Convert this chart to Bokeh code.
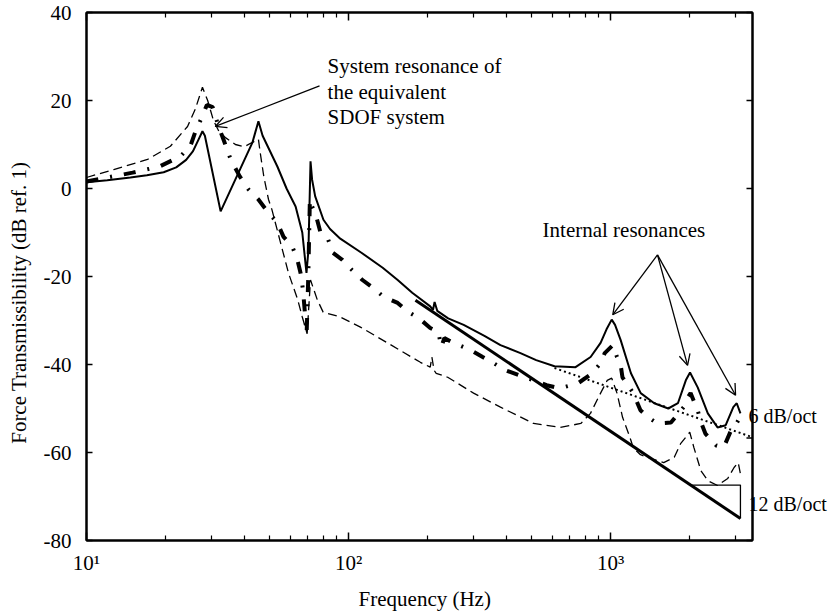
from bokeh.plotting import figure
from bokeh.models import (Range1d, LogAxis, LinearAxis, FixedTicker, Label,
                          Arrow, OpenHead)
from bokeh.embed import file_html
from bokeh.resources import INLINE

FONT = "Liberation Serif"
FS = "21px"
NBSP = "\u00a0"

# Force transmissibility, frequency in Hz and level in dB ref. 1
solid_f = [10, 12, 14.7, 17, 19.7, 22, 24, 25.5, 26.7, 27.7, 28.3, 32.5, 43, 45.3,
           47, 53.5, 58, 62.8, 66.6, 69.1, 70.3, 71.6, 72.6, 74.6, 80.2, 85, 93,
           112, 135, 154, 175, 205, 210, 213, 218, 240, 275, 330, 380, 453, 520,
           611, 735, 839, 916, 965, 1010, 1040, 1092, 1196, 1303, 1468, 1660,
           1807, 1937, 2010, 2150, 2350, 2560, 2750, 2940, 3030, 3130]
solid_db = [1.4, 1.9, 2.5, 3.0, 3.7, 4.8, 6.5, 8.5, 11.0, 13.0, 12.0, -5.2, 10.5,
            15.3, 12.0, 5.0, 0.0, -4.1, -10.0, -19.2, -14.0, 6.2, 2.0, -1.8, -7.1,
            -9.2, -11.4, -14.6, -18.0, -20.8, -23.7, -26.8, -27.6, -25.8, -27.8,
            -29.5, -31.0, -33.5, -35.6, -37.4, -39.0, -40.4, -40.6, -38.3, -35.1,
            -32.0, -29.8, -31.0, -34.4, -42.0, -46.5, -48.8, -50.0, -48.8, -43.6,
            -41.8, -45.2, -51.1, -54.3, -53.8, -49.7, -48.8, -51.1]

dashdot_f = [10, 15, 19, 22.8, 24.9, 26, 27.7, 28.8, 30.3, 31.9, 33.3, 35.5, 38.5,
             41.5, 45.3, 49, 53.5, 56.5, 61, 63.8, 65.6, 67, 69.2, 70.2, 71.2, 72.5,
             74.6, 78, 83.6, 87, 94.7, 103, 113, 124, 136, 154, 169, 185, 205, 220,
             226, 232, 250, 292, 325, 358, 397, 445, 508, 570, 640, 750, 850, 916,
             950, 1020, 1058, 1090, 1110, 1220, 1300, 1390, 1510, 1700, 1900, 1970,
             2020, 2150, 2200, 2300, 2530, 2700, 2880, 2950, 3070]
dashdot_db = [1.6, 3.6, 5.0, 7.3, 9.6, 12.8, 16.5, 19.0, 18.5, 14.1, 11.2, 6.6, 2.7,
              -0.2, -2.5, -5.2, -7.8, -11.0, -13.2, -16.2, -19.2, -23.0, -33.0,
              -20.0, -2.5, -4.0, -5.5, -9.8, -11.6, -14.6, -16.2, -18.5, -20.8,
              -22.6, -24.6, -26.0, -28.1, -29.4, -31.7, -32.6, -36.0, -34.0, -35.0,
              -36.7, -38.3, -39.7, -41.3, -42.4, -43.6, -44.7, -45.4, -44.3, -42.0,
              -39.7, -37.4, -35.6, -38.3, -39.7, -42.9, -46.5, -50.4, -52.0, -53.4,
              -53.2, -49.7, -47.5, -46.5, -50.4, -52.7, -55.7, -58.4, -58.9, -55.0,
              -54.5, -52.7]

dashed_f = [10, 12.7, 17.1, 20.9, 24.3, 26, 27.7, 29, 30.5, 32, 34, 37, 40, 43,
            45.3, 46, 47.5, 49.5, 51, 55, 59, 64, 66.6, 69.5, 70.5, 71.6, 76, 80,
            93, 111, 140, 188, 205, 208, 212, 216, 239, 300, 380, 508, 643, 770,
            838, 916, 971, 1010, 1058, 1111, 1186, 1220, 1300, 1450, 1595, 1750,
            1850, 2005, 2080, 2210, 2350, 2560, 2800, 2960, 3070, 3150]
dashed_db = [2.5, 4.3, 6.6, 9.6, 14.1, 18.0, 23.0, 20.0, 15.5, 13.0, 11.5, 10.0,
             9.5, 10.5, 11.2, 8.2, 2.7, -2.5, -4.8, -12.3, -19.2, -25.3, -29.2,
             -33.0, -27.0, -20.8, -25.3, -28.1, -29.2, -31.5, -35.0, -39.5, -40.6,
             -38.3, -41.3, -42.0, -42.9, -46.5, -49.7, -53.4, -54.3, -53.4, -51.1,
             -46.5, -43.6, -43.1, -46.5, -52.0, -56.6, -58.9, -60.5, -61.5, -62.3,
             -61.1, -58.0, -55.4, -58.9, -64.1, -66.4, -67.5, -65.9, -63.4, -62.3,
             -65.7]

# Asymptotes: 12 dB/oct (thick) and 6 dB/oct (dotted), with slope steps
slope12_f = [180, 3130]
slope12_db = [-25.4, -75.0]
slope12_step_f = [2018, 3130]
slope12_step_db = -67.4

slope6_f = [611, 4375]
slope6_db = [-40.8, -58.6]
slope6_step_f = [3300, 4375]
slope6_step_db = -56.7

slope_label_db = [-51.6, -71.6]
slope_label_text = ["6 dB/oct", "12 dB/oct"]

x_major = [10, 100, 1000]
x_minor = [20, 30, 40, 50, 60, 70, 80, 90, 200, 300, 400, 500, 600, 700, 800,
           900, 2000, 3000]
x_labels = ["10\u00b9", "10\u00b2", "10\u00b3"]
y_ticks = [-80, -60, -40, -20, 0, 20, 40]

p = figure(width=829, height=613, x_axis_type="log",
           x_range=Range1d(10, 3480), y_range=Range1d(-80, 40),
           output_backend="svg", toolbar_location=None,
           min_border_left=86, min_border_right=77,
           min_border_top=12, min_border_bottom=73)
p.xgrid.visible = False
p.ygrid.visible = False
p.outline_line_color = "black"
p.outline_line_width = 2
p.background_fill_color = "white"
p.border_fill_color = "white"

bottom_axis = p.below[0]
left_axis = p.left[0]
top_axis = LogAxis()
p.add_layout(top_axis, "above")

# Right frame edge: the dB ticks are drawn as minor ticks, while the
# major ticks only carry the slope captions
right_axis = LinearAxis(ticker=FixedTicker(ticks=slope_label_db,
                                           minor_ticks=y_ticks),
                        major_label_overrides=dict(zip(slope_label_db,
                                                       slope_label_text)),
                        major_tick_line_color=None, major_tick_in=0,
                        major_tick_out=0, minor_tick_in=6, minor_tick_out=0,
                        minor_tick_line_color="black", minor_tick_line_width=1.5,
                        axis_line_color="black", axis_line_width=2,
                        major_label_standoff=-4,
                        major_label_text_font=FONT, major_label_text_font_size="20px",
                        major_label_text_color="black")
p.add_layout(right_axis, "right")

for ax in [bottom_axis, top_axis]:
    ax.ticker = FixedTicker(ticks=x_major, minor_ticks=x_minor)
    ax.major_tick_in = 8
    ax.major_tick_out = 0
    ax.minor_tick_in = 5
    ax.minor_tick_out = 0
    ax.minor_tick_line_width = 1.2
left_axis.ticker = FixedTicker(ticks=y_ticks)
left_axis.major_tick_in = 6
left_axis.major_tick_out = 0
left_axis.minor_tick_line_color = None
for ax in [bottom_axis, top_axis, left_axis]:
    ax.axis_line_width = 2
    ax.axis_line_color = "black"
    ax.major_tick_line_width = 1.5
    ax.major_tick_line_color = "black"
    ax.major_label_text_font = FONT
    ax.major_label_text_font_size = FS
    ax.major_label_text_color = "black"
    ax.axis_label_text_font = FONT
    ax.axis_label_text_font_size = FS
    ax.axis_label_text_font_style = "normal"
    ax.axis_label_text_color = "black"

# The top frame edge carries ticks only
top_axis.major_label_overrides = {v: "" for v in x_major}
top_axis.major_label_standoff = 0

bottom_axis.major_label_overrides = dict(zip(x_major, x_labels))
bottom_axis.major_label_standoff = 10
bottom_axis.axis_label = NBSP * 2 + "Frequency (Hz)"
bottom_axis.axis_label_standoff = 9

left_axis.major_label_overrides = {v: str(v) for v in y_ticks}
left_axis.major_label_standoff = 15
left_axis.axis_label = "Force Transmissibility (dB ref. 1)" + NBSP * 10
left_axis.axis_label_standoff = 10

# Curves
p.line(dashed_f, dashed_db, line_color="black", line_width=1.3, line_dash="9 5")
p.line(dashdot_f, dashdot_db, line_color="black", line_width=4,
       line_dash="12 12 2 12")
p.line(solid_f, solid_db, line_color="black", line_width=2)
p.line(slope12_f, slope12_db, line_color="black", line_width=3)

# 12 dB/oct slope step
p.line([slope12_step_f[0], slope12_step_f[1], slope12_step_f[1]],
       [slope12_step_db, slope12_step_db, slope12_db[1]],
       line_color="black", line_width=1.3)

# 6 dB/oct asymptote and its step
p.line(slope6_f, slope6_db, line_color="black", line_width=2, line_dash="2 3")
p.line([slope6_step_f[0], slope6_step_f[1], slope6_step_f[1]],
       [slope6_step_db, slope6_step_db, slope6_db[1]],
       line_color="black", line_width=1.3)


def label(x, y, text, **kw):
    p.add_layout(Label(x=x, y=y, text=text, text_font=FONT, text_font_size=FS,
                       text_color="black", **kw))


label(83.2, 25.1, "System resonance of")
label(83.2, 19.3, "the equivalent")
label(83.2, 13.6, "SDOF system")
label(550, -12.1, "Internal resonances")

# Annotation arrows
head = dict(size=11, line_width=1.3, line_color="black")
p.add_layout(Arrow(end=OpenHead(**head), x_start=77.5, y_start=23.3,
                   x_end=31.0, y_end=14.1, line_width=1.3))
for xe, ye in [(1019, -28.7), (1967, -40.2), (2999, -47.0)]:
    p.add_layout(Arrow(end=OpenHead(**head), x_start=1510, y_start=-15.1,
                       x_end=xe, y_end=ye, line_width=1.3))

open("out.html", "w").write(file_html(p, INLINE))
